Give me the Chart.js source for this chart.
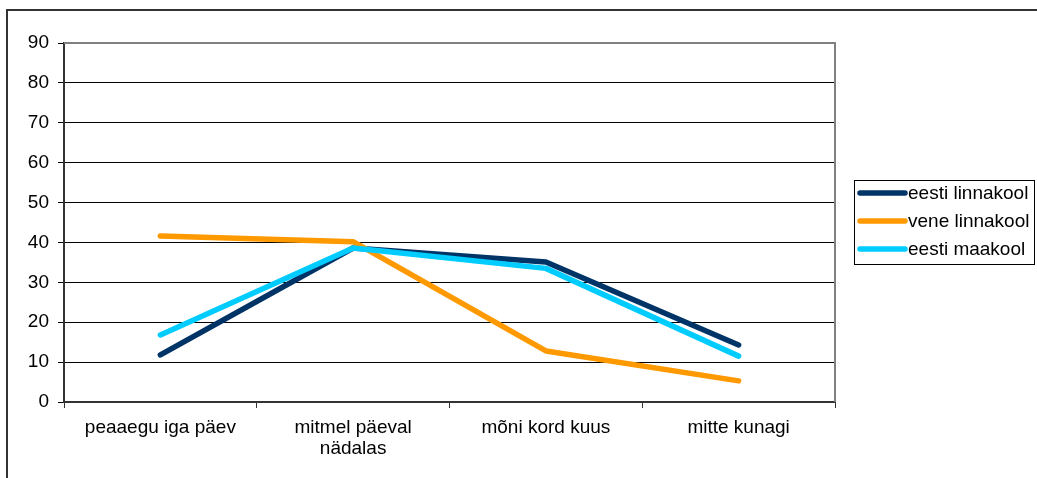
<!DOCTYPE html>
<html>
<head>
<meta charset="utf-8">
<script src="https://cdn.jsdelivr.net/npm/chart.js@4.4.0/dist/chart.umd.min.js"></script>
<style>
html,body{margin:0;padding:0;background:#fff;}
#wrap{width:1037px;height:478px;position:relative;}
canvas{display:block;}
</style>
</head>
<body>
<div id="wrap"><canvas id="c" width="1037" height="478"></canvas></div>
<script>
const categories = ["peaaegu iga päev", ["mitmel päeval", "nädalas"], "mõni kord kuus", "mitte kunagi"];
const seriesNames = ["eesti linnakool", "vene linnakool", "eesti maakool"];
const eestiLinnakool = [11.8, 38.6, 35.1, 14.3];
const veneLinnakool = [41.6, 40.2, 12.8, 5.3];
const eestiMaakool = [16.8, 38.6, 33.5, 11.5];
const yTicks = [0, 10, 20, 30, 40, 50, 60, 70, 80, 90];
const colors = ["#003366", "#FF9900", "#00CCFF"];

const FONT = "Liberation Sans, Arial, sans-serif";
const FSIZE = 19;

const framePlugin = {
  id: 'frame',
  beforeDraw(chart) {
    const ctx = chart.ctx;
    ctx.save();
    ctx.fillStyle = '#fff';
    ctx.fillRect(0, 0, chart.width, chart.height);
    ctx.strokeStyle = '#333';
    ctx.lineWidth = 2;
    ctx.beginPath();
    ctx.moveTo(7, 478);
    ctx.lineTo(7, 10);
    ctx.lineTo(1037, 10);
    ctx.stroke();
    ctx.restore();
  },
  beforeDatasetsDraw(chart) {
    const ctx = chart.ctx;
    const a = chart.chartArea;
    ctx.save();
    ctx.strokeStyle = '#808080';
    ctx.lineWidth = 2;
    ctx.beginPath();
    ctx.moveTo(a.left, a.top);
    ctx.lineTo(a.right, a.top);
    ctx.lineTo(a.right, a.bottom);
    ctx.stroke();
    ctx.restore();
  },
  afterDraw(chart) {
    const ctx = chart.ctx;
    ctx.save();
    ctx.strokeStyle = '#000';
    ctx.lineWidth = 1;
    ctx.strokeRect(854.5, 180.5, 180, 84);
    const ys = [193, 221, 249];
    chart.data.datasets.forEach((ds, i) => {
      ctx.strokeStyle = ds.borderColor;
      ctx.lineWidth = 5.5;
      ctx.lineCap = 'round';
      ctx.beginPath();
      ctx.moveTo(860, ys[i]);
      ctx.lineTo(905, ys[i]);
      ctx.stroke();
      ctx.fillStyle = '#000';
      ctx.font = FSIZE + 'px ' + FONT;
      ctx.textBaseline = 'middle';
      ctx.textAlign = 'left';
      ctx.fillText(ds.label, 908, ys[i] + 1);
    });
    ctx.restore();
  }
};

const mk = (i, data, order) => ({
  label: seriesNames[i],
  data: data,
  borderColor: colors[i],
  backgroundColor: colors[i],
  borderWidth: 5.5,
  borderCapStyle: 'round',
  borderJoinStyle: 'round',
  pointRadius: 0,
  pointHoverRadius: 0,
  tension: 0,
  fill: false,
  order: order
});

new Chart(document.getElementById('c'), {
  type: 'line',
  data: {
    labels: categories,
    datasets: [mk(0, eestiLinnakool, 3), mk(1, veneLinnakool, 2), mk(2, eestiMaakool, 1)]
  },
  options: {
    responsive: false,
    animation: false,
    devicePixelRatio: 1,
    layout: { padding: { top: 43, right: 202, left: 0, bottom: 0 } },
    plugins: { legend: { display: false }, tooltip: { enabled: false } },
    scales: {
      x: {
        type: 'category',
        offset: true,
        grid: { offset: true, drawOnChartArea: false, drawTicks: true, tickLength: 6, color: '#333', lineWidth: 1 },
        border: { display: true, color: '#333', width: 2 },
        ticks: { color: '#000', font: { family: FONT, size: FSIZE, lineHeight: 1.1 }, padding: 9, maxRotation: 0, autoSkip: false },
        afterFit(s) { s.height = 76; }
      },
      y: {
        min: 0, max: 90,
        afterBuildTicks(s) { s.ticks = yTicks.map(v => ({ value: v })); },
        grid: { color: '#000', lineWidth: 1, drawTicks: true, tickLength: 6 },
        border: { display: true, color: '#333', width: 2 },
        ticks: { color: '#000', font: { family: FONT, size: FSIZE }, padding: 9 },
        afterFit(s) { s.width = 64; }
      }
    }
  },
  plugins: [framePlugin]
});
</script>
</body>
</html>
